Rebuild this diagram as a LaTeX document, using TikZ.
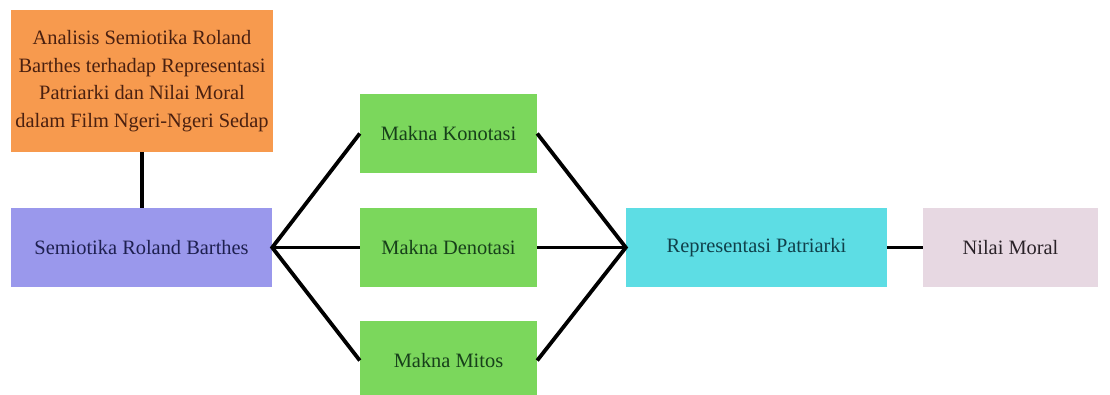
\documentclass[tikz,border=0pt]{standalone}
\usepackage{fontspec}
\setmainfont{Liberation Serif}
\definecolor{orangefill}{HTML}{F79A4E}
\definecolor{purplefill}{HTML}{9A98EC}
\definecolor{greenfill}{HTML}{7BD75C}
\definecolor{cyanfill}{HTML}{5DDDE4}
\definecolor{pinkfill}{HTML}{E7D8E2}
\definecolor{orangetext}{HTML}{4A2010}
\definecolor{purpletext}{HTML}{1E2050}
\definecolor{greentext}{HTML}{17401A}
\definecolor{cyantext}{HTML}{10404A}
\definecolor{pinktext}{HTML}{2A2228}
\begin{document}
\begin{tikzpicture}[x=1pt,y=-1pt,
  box/.style={rectangle, inner sep=0pt, font=\fontsize{20.4}{27.5}\selectfont, align=center},
  link/.style={line width=3.8pt, black}]
\useasboundingbox (0,0) rectangle (1110,394);
\begin{scope}
\clip (0,0) rectangle (1110,394);
\node[box, fill=orangefill, text=orangetext, minimum width=262pt, minimum height=142pt] (judul) at (142,81)
  {Analisis Semiotika Roland\\Barthes terhadap Representasi\\Patriarki dan Nilai Moral\\dalam Film Ngeri-Ngeri Sedap};
\node[box, fill=purplefill, text=purpletext, minimum width=261pt, minimum height=79pt] (semio) at (141.5,247.5) {Semiotika Roland Barthes};
\node[box, fill=greenfill, text=greentext, minimum width=177pt, minimum height=79pt] (kono) at (448.5,133.5) {Makna Konotasi};
\node[box, fill=greenfill, text=greentext, minimum width=177pt, minimum height=79pt] (deno) at (448.5,247.5) {Makna Denotasi};
\node[box, fill=greenfill, text=greentext, minimum width=177pt, minimum height=79pt] (mitos) at (448.5,360.5) {Makna Mitos};
\node[box, fill=cyanfill, text=cyantext, minimum width=261pt, minimum height=79pt] (repr) at (756.5,247.5) {Representasi Patriarki};
\node[box, fill=pinkfill, text=pinktext, minimum width=175pt, minimum height=79pt] (nilai) at (1010.5,247.5) {Nilai Moral};
\end{scope}
\draw[link] (judul.south) -- (judul.south |- semio.north);
\draw[link, line join=miter] (kono.west) -- (semio.east) -- (mitos.west);
\draw[link] (semio.east) -- (deno.west);
\draw[link, line join=miter] (kono.east) -- (repr.west) -- (mitos.east);
\draw[link] (deno.east) -- (repr.west);
\draw[link] (repr.east) -- (nilai.west);
\end{tikzpicture}
\end{document}
